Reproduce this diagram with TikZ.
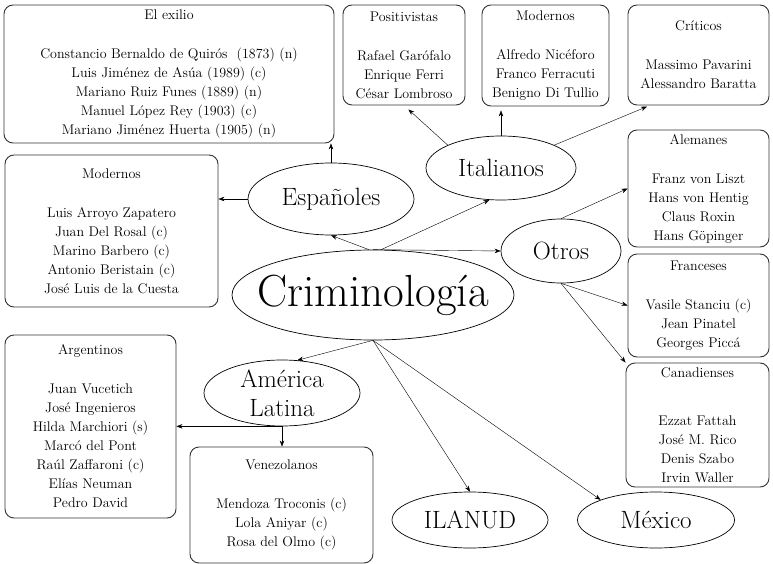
\documentclass[tikz,border=0pt]{standalone}
\usepackage{fontspec}
\usepackage{tikz}
\usetikzlibrary{shapes.geometric,arrows.meta}

\tikzset{
  grp/.style 2 args={draw=black!80,line width=0.9pt,rounded corners=9pt,align=center,
    inner sep=0pt,minimum width=#1,minimum height=#2,font=\fontsize{14}{19}\selectfont},
  bub/.style 2 args={ellipse,draw,line width=0.7pt,inner sep=0pt,
    minimum width=#1,minimum height=#2,font=\fontsize{25}{29}\selectfont},
}

\begin{document}
\begin{tikzpicture}[x=1pt,y=-1pt,>={Stealth[length=6pt,width=4.5pt]}]
\useasboundingbox (0,0) rectangle (773,564);
% ramas
\node[bub={282pt}{90pt},font=\fontsize{45}{50}\selectfont,inner xsep=-20pt] (crim) at (373,295) {Criminología};
\node[bub={166pt}{72pt}] (esp) at (331,199) {Españoles};
\node[bub={150pt}{64pt}] (ita) at (501,168) {Italianos};
\node[bub={120pt}{64pt}] (otros) at (561,251) {Otros};
\node[bub={156pt}{66pt},align=center,inner ysep=-3pt] (amlat) at (282,393) {América\\Latina};
\node[bub={156pt}{56pt}] (ilanud) at (470,520) {ILANUD};
\node[bub={157pt}{56pt}] (mex) at (656,520) {México};

% grupos
\node[grp={330pt}{138pt}] (exilio) at (169,74) {El exilio\\[20pt]Constancio Bernaldo de Quirós~ (1873) (n)\\Luis Jiménez de Asúa (1989) (c)\\Mariano Ruiz Funes (1889) (n)\\Manuel López Rey (1903) (c)\\Mariano Jiménez Huerta (1905) (n)};
\node[grp={122pt}{100pt}] (posit) at (404,55) {Positivistas\\[20pt]Rafael Garófalo\\Enrique Ferri\\César Lombroso};
\node[grp={127pt}{101pt}] (modit) at (545.5,55.5) {Modernos\\[20pt]Alfredo Nicéforo\\Franco Ferracuti\\Benigno Di Tullio};
\node[grp={141pt}{100pt}] (crit) at (698.5,55) {Críticos\\[20pt]Massimo Pavarini\\Alessandro Baratta};
\node[grp={141pt}{117pt}] (alem) at (698.5,188.5) {Alemanes\\[20pt]Franz von Liszt\\Hans von Hentig\\Claus Roxin\\Hans Göpinger};
\node[grp={141pt}{103pt}] (franc) at (698.5,305.5) {Franceses\\[20pt]Vasile Stanciu (c)\\Jean Pinatel\\Georges Piccá};
\node[grp={143pt}{124pt}] (canad) at (697.5,425) {Canadienses\\[29pt]Ezzat Fattah\\José M. Rico\\Denis Szabo\\Irvin Waller};
\node[grp={213pt}{152pt}] (modes) at (111.5,231) {Modernos\\[20pt]Luis Arroyo Zapatero\\Juan Del Rosal (c)\\Marino Barbero (c)\\Antonio Beristain (c)\\José Luis de la Cuesta};
\node[grp={171pt}{183pt}] (arg) at (90.5,426.5) {Argentinos\\[20pt]Juan Vucetich\\José Ingenieros\\Hilda Marchiori (s)\\Marcó del Pont\\Raúl Zaffaroni (c)\\Elías Neuman\\Pedro David};
\node[grp={183pt}{116pt}] (venez) at (281.5,505) {Venezolanos\\[20pt]Mendoza Troconis (c)\\Lola Aniyar (c)\\Rosa del Olmo (c)};

% flechas
\draw[->] (crim.95) -- (esp.south);
\draw[->] (crim.80) -- (ita.250);
\draw[->] (crim.north) -- (otros.west);
\draw[->] (crim.south) -- (amlat.65);
\draw[->] (crim.south) -- (ilanud.north);
\draw[->] (crim.south) -- (mex.160);
\draw[->] (esp.north) -- (esp.north |- exilio.south);
\draw[->] (esp.west) -- (esp.west -| modes.east);
\draw[->,shorten >=6pt] (ita.north west) -- (posit.south);
\draw[->,shorten >=4pt] (ita.north) -- (ita.north |- modit.south);
\draw[->,shorten >=3pt] (ita.north east) -- (crit.226);
\draw[->] (otros.north) -- (alem.west);
\draw[->] (otros.south) -- (franc.west);
\draw[->] (otros.south) -- (canad.north west);
\draw[->] (amlat.south) -- (amlat.south -| arg.east);
\draw[->] (amlat.south) -- (amlat.south |- venez.north);
\end{tikzpicture}
\end{document}
